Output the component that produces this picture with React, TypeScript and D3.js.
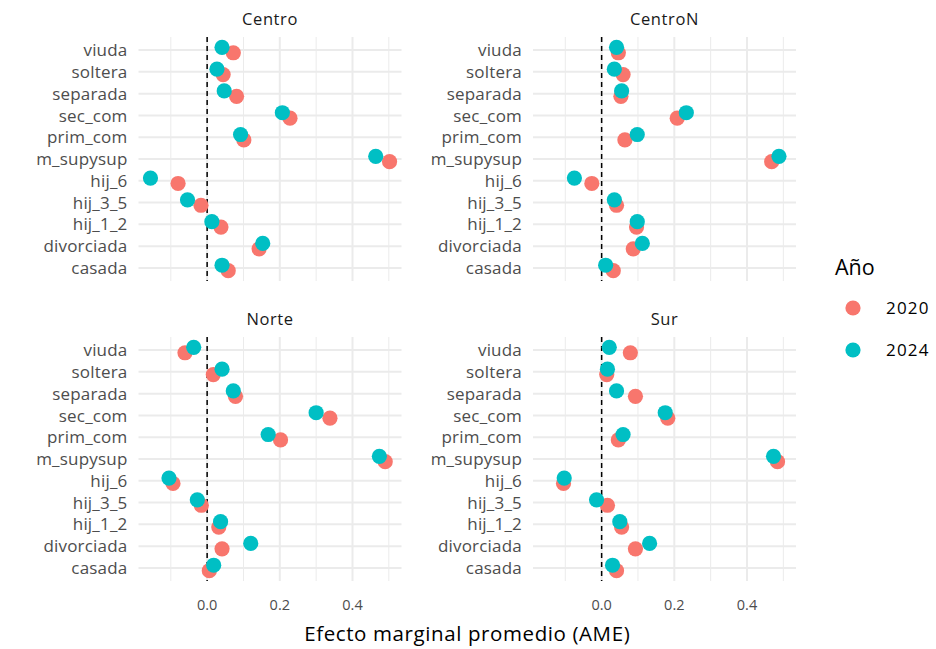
import { useEffect, useRef } from 'react'
import * as d3 from 'd3'

// categories, top to bottom
const categories = ['viuda', 'soltera', 'separada', 'sec_com', 'prim_com', 'm_supysup', 'hij_6', 'hij_3_5', 'hij_1_2', 'divorciada', 'casada']
const regions = ['Centro', 'CentroN', 'Norte', 'Sur']
const years = ['2020', '2024']
const yearColors = ['#F8766D', '#00BFC4']
const xTicks = [0, 0.2, 0.4]
const xMinor = [-0.1, 0.1, 0.3, 0.5]

// AME values per region, same order as categories
const centro2020 = [0.072, 0.044, 0.081, 0.228, 0.101, 0.502, -0.080, -0.017, 0.038, 0.143, 0.058]
const centro2024 = [0.041, 0.027, 0.047, 0.207, 0.092, 0.464, -0.156, -0.054, 0.013, 0.153, 0.041]
const centroN2020 = [0.046, 0.059, 0.053, 0.208, 0.064, 0.468, -0.027, 0.041, 0.096, 0.087, 0.032]
const centroN2024 = [0.041, 0.035, 0.055, 0.233, 0.098, 0.488, -0.075, 0.035, 0.098, 0.112, 0.011]
const norte2020 = [-0.061, 0.017, 0.078, 0.338, 0.202, 0.490, -0.094, -0.016, 0.032, 0.041, 0.006]
const norte2024 = [-0.037, 0.041, 0.072, 0.300, 0.168, 0.474, -0.105, -0.027, 0.037, 0.120, 0.018]
const sur2020 = [0.079, 0.014, 0.093, 0.182, 0.046, 0.484, -0.105, 0.016, 0.055, 0.093, 0.041]
const sur2024 = [0.021, 0.016, 0.041, 0.175, 0.059, 0.473, -0.103, -0.014, 0.050, 0.132, 0.030]

const seriesByRegion = [
  [centro2020, centro2024],
  [centroN2020, centroN2024],
  [norte2020, norte2024],
  [sur2020, sur2024],
]

const W = 936
const H = 649
const panelW = 263
const panelH = 244
const panelX = [138.5, 533, 138.5, 533]
const panelY = [37, 37, 337, 337]
const font = '"Open Sans", "DejaVu Sans", sans-serif'

export default function App() {
  const ref = useRef<SVGSVGElement>(null)

  useEffect(() => {
    if (!ref.current) return
    const svg = d3.select(ref.current)
    svg.selectAll('*').remove()

    const all = seriesByRegion.flat(2)
    const lo = d3.min(all)!
    const hi = d3.max(all)!
    const pad = (hi - lo) * 0.05
    const x = d3.scaleLinear().domain([lo - pad, hi + pad]).range([0, panelW])
    const y = d3.scalePoint<string>().domain(categories).range([0, panelH]).padding(0.6)
    const dodge = 2.7

    regions.forEach((reg, i) => {
      const g = svg.append('g').attr('transform', `translate(${panelX[i]},${panelY[i]})`)

      g.selectAll('line.minor').data(xMinor).join('line')
        .attr('x1', d => x(d)).attr('x2', d => x(d)).attr('y1', 0).attr('y2', panelH)
        .attr('stroke', '#EBEBEB').attr('stroke-width', 1)
      g.selectAll('line.major').data(xTicks).join('line')
        .attr('x1', d => x(d)).attr('x2', d => x(d)).attr('y1', 0).attr('y2', panelH)
        .attr('stroke', '#EBEBEB').attr('stroke-width', 2)
      g.selectAll('line.hmaj').data(categories).join('line')
        .attr('x1', 0).attr('x2', panelW).attr('y1', d => y(d)!).attr('y2', d => y(d)!)
        .attr('stroke', '#EBEBEB').attr('stroke-width', 2)

      g.append('line')
        .attr('x1', x(0)).attr('x2', x(0)).attr('y1', 0).attr('y2', panelH)
        .attr('stroke', '#000').attr('stroke-width', 1.5).attr('stroke-dasharray', '5,4')

      years.forEach((_, k) => {
        const vals = seriesByRegion[i][k]
        g.selectAll(`circle.s${k}`).data(vals).join('circle')
          .attr('cx', d => x(d))
          .attr('cy', (_, j) => y(categories[j])! + (k === 0 ? dodge : -dodge))
          .attr('r', 7.6)
          .attr('fill', yearColors[k])
      })

      // y labels
      g.selectAll('text.yl').data(categories).join('text')
        .attr('x', -11).attr('y', d => y(d)!).attr('dy', '0.36em')
        .attr('text-anchor', 'end').attr('font-size', 17).attr('fill', '#4D4D4D')
        .attr('font-family', font).attr('letter-spacing', 0.2)
        .text(d => d)

      // strip
      g.append('text')
        .attr('x', panelW / 2).attr('y', -12)
        .attr('text-anchor', 'middle').attr('font-size', 16.5).attr('fill', '#1A1A1A')
        .attr('font-family', font).attr('letter-spacing', 0.6)
        .text(reg)

      if (i >= 2) {
        g.selectAll('text.xl').data(xTicks).join('text')
          .attr('x', d => x(d)).attr('y', panelH + 29)
          .attr('text-anchor', 'middle').attr('font-size', 14.5).attr('fill', '#4D4D4D')
          .attr('font-family', font)
          .text(d => d3.format('.1f')(d))
      }
    })

    svg.append('text')
      .attr('x', (panelX[0] + panelX[1] + panelW) / 2).attr('y', 641)
      .attr('text-anchor', 'middle').attr('font-size', 20.5).attr('fill', '#000')
      .attr('font-family', font).attr('letter-spacing', 0.6)
      .text('Efecto marginal promedio (AME)')

    // legend
    const lg = svg.append('g')
    lg.append('text').attr('x', 835).attr('y', 275).attr('font-size', 21.5).attr('fill', '#000')
      .attr('font-family', font).text('Año')
    years.forEach((yr, k) => {
      lg.append('circle').attr('cx', 853).attr('cy', 308 + k * 42).attr('r', 7.6).attr('fill', yearColors[k])
      lg.append('text').attr('x', 886).attr('y', 308 + k * 42).attr('dy', '0.36em')
        .attr('font-size', 17).attr('fill', '#000').attr('font-family', font).attr('letter-spacing', 1.2).text(yr)
    })
  }, [])

  return (
    <svg ref={ref} width={W} height={H} style={{ position: 'absolute', left: 0, top: 0, background: '#fff' }} />
  )
}
